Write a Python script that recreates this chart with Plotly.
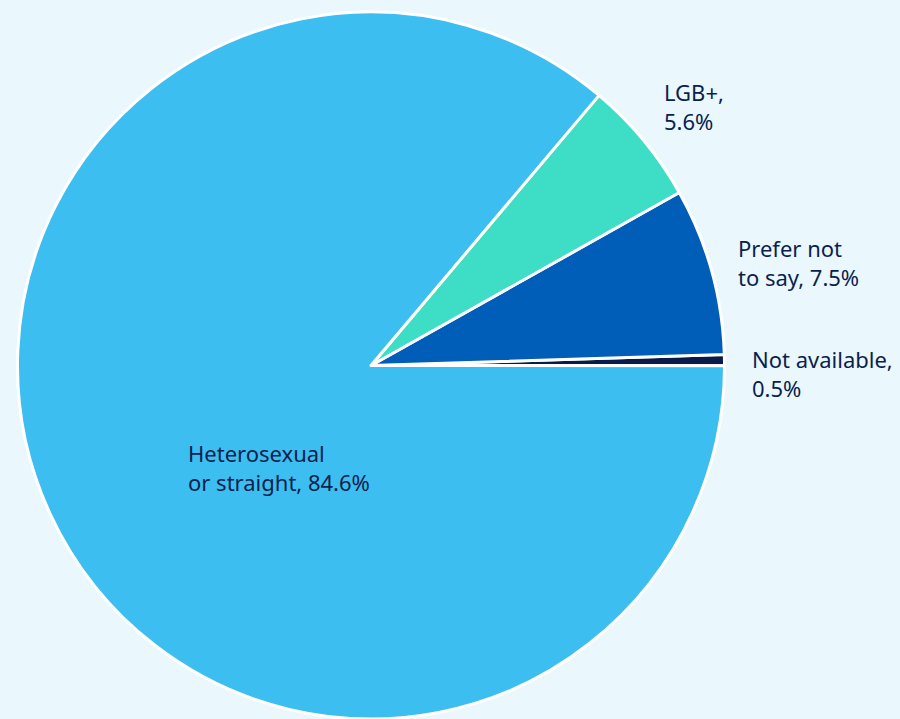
import plotly.graph_objects as go

# Sexual orientation breakdown (percent)
categories = ["Not available", "Prefer not to say", "LGB+", "Heterosexual or straight"]
values = [0.5, 7.5, 5.6, 84.6]
label_lines = [
    ["Not available,", "{v}%"],
    ["Prefer not", "to say, {v}%"],
    ["LGB+,", "{v}%"],
    ["Heterosexual", "or straight, {v}%"],
]
colors = ["#0A1A4A", "#005EB8", "#3EDDC6", "#3CBEF0"]

W, H = 900, 719
bg = "#EAF7FC"
text_color = "#0B1F4F"

fig = go.Figure(
    go.Pie(
        labels=categories,
        values=values,
        sort=False,
        direction="counterclockwise",
        rotation=88.2,
        marker=dict(colors=colors, line=dict(color="white", width=3)),
        textinfo="none",
        hoverinfo="label+percent",
        domain=dict(x=[17.5 / W, 724.5 / W], y=[0, 1]),
        showlegend=False,
    )
)

# label anchor points (pixels: left edge, vertical middle of block)
label_pos = [(750, 368), (736, 255), (662, 96), (186, 463)]
for cat_lines, v, (px, py) in zip(label_lines, values, label_pos):
    text = "<br>".join(line.format(v=v) for line in cat_lines)
    fig.add_annotation(
        x=px / W,
        y=1 - py / H,
        xref="paper",
        yref="paper",
        xanchor="left",
        yanchor="middle",
        align="left",
        showarrow=False,
        text=text,
        font=dict(family="Noto Sans", size=22, color=text_color),
    )

fig.update_layout(
    width=W,
    height=H,
    margin=dict(l=0, r=0, t=12, b=0),
    paper_bgcolor=bg,
    plot_bgcolor=bg,
)

fig.write_html("out.html")
